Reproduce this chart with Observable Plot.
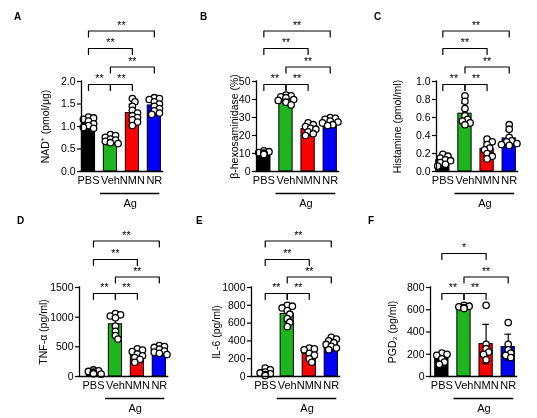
<!DOCTYPE html>
<html>
<head>
<meta charset="utf-8">
<script src="https://cdn.jsdelivr.net/npm/d3@7"></script>
<script src="https://cdn.jsdelivr.net/npm/@observablehq/plot@0.6"></script>
<style>
  body { margin: 0; background: #fff; }
  #fig { position: relative; width: 537px; height: 418px; font-family: "Liberation Sans", Arial, sans-serif; }
  #fig svg { position: absolute; will-change: transform; }
  .tag { position: absolute; font-weight: bold; font-size: 10px; line-height: 10px; }
</style>
</head>
<body>
<div id="fig"></div>
<script>
const groups = ["PBS", "Veh", "NMN", "NR"];
const colors = ["#000000", "#1fb51f", "#ff0000", "#0000ff"];
const agGroups = ["Veh", "NMN", "NR"];

// individual points per group
const nadValues = [
  [1.21, 1.19, 1.16, 1.12, 1.06, 1.02, 0.98, 0.96],
  [0.82, 0.8, 0.76, 0.72, 0.7, 0.67, 0.64, 0.62],
  [1.62, 1.55, 1.45, 1.36, 1.3, 1.24, 1.2, 1.15, 1.1, 1.02],
  [1.64, 1.62, 1.6, 1.55, 1.5, 1.45, 1.4, 1.35, 1.3, 1.27]
];
const hexValues = [
  [11.5, 11, 10.5, 10.2, 10, 9.8, 9.5],
  [42.5, 42, 41.5, 41, 40, 39.5, 38.5, 37],
  [27, 26, 25, 24, 23.5, 22, 21, 20],
  [30, 29.5, 29, 28, 27.5, 27, 26, 25.5]
];
const histValues = [
  [0.19, 0.17, 0.15, 0.13, 0.12, 0.1, 0.08, 0.06],
  [0.84, 0.78, 0.7, 0.62, 0.58, 0.56, 0.54, 0.52],
  [0.36, 0.33, 0.3, 0.26, 0.24, 0.2, 0.17, 0.14],
  [0.52, 0.47, 0.38, 0.34, 0.33, 0.31, 0.3, 0.29]
];
const tnfValues = [
  [110, 95, 85, 75, 65, 55, 45, 40],
  [1060, 1040, 1020, 990, 850, 760, 690, 630],
  [465, 445, 420, 380, 350, 320, 290, 240],
  [520, 505, 490, 460, 430, 410, 390, 370]
];
const il6Values = [
  [95, 75, 50, 40, 30, 20, 15, 10],
  [800, 790, 770, 740, 700, 650, 610, 560],
  [320, 310, 300, 260, 240, 200, 160],
  [440, 420, 400, 380, 360, 340, 320, 300]
];
const pgdValues = [
  [210, 200, 190, 160, 130, 110],
  [640, 632, 626, 620, 616, 612],
  [640, 290, 250, 220, 200, 150],
  [485, 290, 240, 210, 190, 170]
];

const nadTicks = [0, 0.5, 1, 1.5, 2];
const hexTicks = [0, 10, 20, 30, 40, 50];
const histTicks = [0, 0.2, 0.4, 0.6, 0.8, 1];
const tnfTicks = [0, 500, 1000, 1500];
const il6Ticks = [0, 200, 400, 600, 800, 1000];
const pgdTicks = [0, 200, 400, 600, 800];

const compsMain = [["PBS", "Veh", "**"], ["Veh", "NMN", "**"], ["Veh", "NR", "**"], ["PBS", "NMN", "**"], ["PBS", "NR", "**"]];
const compsPgd = [["PBS", "Veh", "**"], ["Veh", "NMN", "**"], ["Veh", "NR", "**"], ["PBS", "NMN", "*"]];

const FONT = '"Liberation Sans", Arial, sans-serif';
const fig = document.querySelector("#fig");

// Prism-like horizontal spreading of overlapping points
function spread(vals, k, r = 3.2) {
  const placed = [];
  for (const v of [...vals].sort((a, b) => b - a)) {
    const py = v * k;
    let ok = false;
    for (const j of [0, 1, -1, 2, -2, 3, -3]) {
      const ox = j * r * 0.8;
      if (placed.every((q) => (q.ox - ox) ** 2 + (q.py - py) ** 2 >= (1.25 * r) ** 2)) {
        placed.push({ v, ox, py });
        ok = true;
        break;
      }
    }
    if (!ok) placed.push({ v, ox: 0, py });
  }
  return placed;
}

// stack brackets: lowest free level where it doesn't overlap another one
function assignLevels(comps) {
  const used = [];
  return comps.map(([g1, g2]) => {
    const lo = groups.indexOf(g1), hi = groups.indexOf(g2);
    let L = 0;
    while ((used[L] ||= []).some(([a, b]) => lo < b && hi > a)) L++;
    used[L].push([lo, hi]);
    return L;
  });
}

function panel(p) {
  const unit = 22;
  const a = (p.axis - p.cx0) / unit;
  const xEnd = 3.6;
  const mL = 64, mR = 2, mT = 81, mB = 40;
  const width = Math.round(mL + (xEnd - a) * unit + mR);
  const k = p.plotH / p.yMax;

  const stats = groups.map((g, i) => ({
    g, i, color: colors[i],
    mean: d3.mean(p.values[i]),
    sd: d3.deviation(p.values[i])
  }));
  const dots = groups.flatMap((g, i) => spread(p.values[i], k).map((d) => ({ g, v: d.v, x: i + d.ox / unit })));

  const levels = assignLevels(p.comps);
  const br = p.comps.map(([g1, g2, s], j) => ({
    x1: groups.indexOf(g1), x2: groups.indexOf(g2), s,
    y: p.yMax + p.levelPx[levels[j]] / k
  }));
  const drop = 6 / k;
  const brPts = br.flatMap((b, j) =>
    [[b.x1, b.y - drop], [b.x1, b.y], [b.x2, b.y], [b.x2, b.y - drop]].map(([x, y]) => ({ x, y, j }))
  );
  const ag0 = groups.indexOf(agGroups[0]) - 0.45;
  const ag1 = groups.indexOf(agGroups[agGroups.length - 1]) + 0.25;

  const svg = Plot.plot({
    width,
    height: mT + p.plotH + mB,
    marginLeft: mL, marginRight: mR, marginTop: mT, marginBottom: mB,
    style: { fontFamily: FONT, fontSize: "10.5px", background: "transparent", overflow: "visible" },
    x: { type: "linear", domain: [a, xEnd] },
    y: { domain: [0, p.yMax] },
    color: { type: "identity" },
    marks: [
      Plot.rectY(stats, { x1: (d) => d.i - 0.3, x2: (d) => d.i + 0.3, y1: () => 0, y2: "mean", fill: "color", stroke: "black", strokeWidth: 1 }),
      Plot.ruleX(stats, { x: "i", y1: (d) => d.mean - d.sd, y2: (d) => d.mean + d.sd, stroke: "black", strokeWidth: 1.2 }),
      Plot.ruleY(stats, { y: (d) => d.mean + d.sd, x1: (d) => d.i - 0.15, x2: (d) => d.i + 0.15, stroke: "black", strokeWidth: 1.2 }),
      Plot.ruleY(stats, { y: (d) => d.mean - d.sd, x1: (d) => d.i - 0.15, x2: (d) => d.i + 0.15, stroke: "black", strokeWidth: 1.2 }),
      Plot.dot(dots, { x: "x", y: "v", r: 3.2, fill: "white", stroke: "black", strokeWidth: 1.3 }),
      Plot.ruleX([a], { y1: () => 0, y2: () => p.yMax, stroke: "black", strokeWidth: 1.3, strokeLinecap: "square" }),
      Plot.ruleY([0], { x1: () => a, x2: () => 3.4, stroke: "black", strokeWidth: 1.3, strokeLinecap: "square" }),
      Plot.axisY({
        ticks: p.ticks, tickFormat: p.fmt, tickSize: 4, tickPadding: 2, strokeWidth: 1.2,
        label: p.label, labelAnchor: "center", labelArrow: "none", labelOffset: p.labelOffset, fontSize: 10.5
      }),
      Plot.axisX({ ticks: d3.range(groups.length), tickFormat: (i) => groups[i], tickSize: 0, tickPadding: 5, label: null, fontSize: 11 }),
      Plot.line(brPts, { x: "x", y: "y", z: "j", stroke: "black", strokeWidth: 1.2 }),
      Plot.text(br, { x: (d) => (d.x1 + d.x2) / 2, y: "y", text: "s", dy: -5.5, fontSize: 10.5, fill: "black" }),
      Plot.ruleY([0], { x1: () => ag0, x2: () => ag1, dy: 22, stroke: "black", strokeWidth: 1.3 }),
      Plot.text(["Ag"], { x: () => (ag0 + ag1) / 2, y: () => 0, text: (d) => d, dy: 32, fontSize: 11 })
    ]
  });
  svg.style.left = `${p.axis - mL}px`;
  svg.style.top = `${p.top}px`;
  fig.append(svg);

  const tag = document.createElement("div");
  tag.className = "tag";
  tag.textContent = p.tag;
  tag.style.left = `${p.tagX}px`;
  tag.style.top = `${p.tagY}px`;
  fig.append(tag);
}

const topLevels = [-3, 14.5, 33, 50.5];
const botLevels = [-6, 10.5, 28, 46.5];

panel({ tag: "A", tagX: 14, tagY: 12, values: nadValues, ticks: nadTicks, yMax: 2, fmt: ".1f", label: "NAD⁺ (pmol/μg)",
  axis: 80.5, cx0: 87.5, top: 0, plotH: 90, labelOffset: 40, comps: compsMain, levelPx: topLevels });
panel({ tag: "B", tagX: 200, tagY: 12, values: hexValues, ticks: hexTicks, yMax: 50, fmt: "d", label: "β-hexosaminidase (%)",
  axis: 256, cx0: 263.3, top: 0, plotH: 90, labelOffset: 25.5, comps: compsMain, levelPx: topLevels });
panel({ tag: "C", tagX: 374, tagY: 12, values: histValues, ticks: histTicks, yMax: 1, fmt: ".1f", label: "Histamine (pmol/ml)",
  axis: 435.7, cx0: 442, top: 0, plotH: 90, labelOffset: 42.5, comps: compsMain, levelPx: topLevels });
panel({ tag: "D", tagX: 17, tagY: 216, values: tnfValues, ticks: tnfTicks, yMax: 1500, fmt: "d", label: "TNF-α (pg/ml)",
  axis: 79.3, cx0: 93.3, top: 206, plotH: 89, labelOffset: 39.5, comps: compsMain, levelPx: botLevels });
panel({ tag: "E", tagX: 196, tagY: 216, values: il6Values, ticks: il6Ticks, yMax: 1000, fmt: "d", label: "IL-6 (pg/ml)",
  axis: 251, cx0: 264.7, top: 206, plotH: 89, labelOffset: 38.5, comps: compsMain, levelPx: botLevels });
panel({ tag: "F", tagX: 368, tagY: 216, values: pgdValues, ticks: pgdTicks, yMax: 800, fmt: "d", label: "PGD₂ (pg/ml)",
  axis: 430, cx0: 441.3, top: 206, plotH: 89, labelOffset: 41.5, comps: compsPgd, levelPx: [-6, 10.5, 34, 46.5] });
</script>
</body>
</html>
